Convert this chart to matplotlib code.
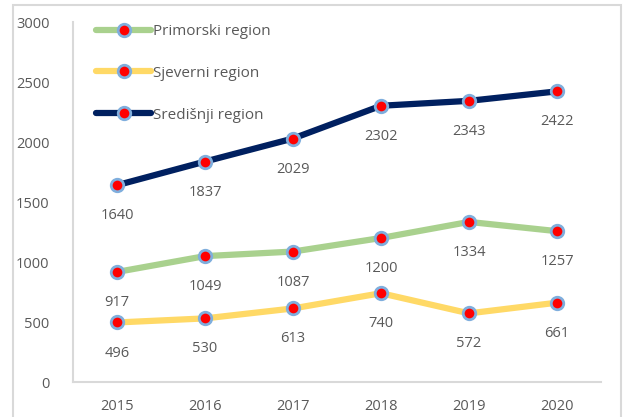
import matplotlib
matplotlib.use('Agg')
import matplotlib.pyplot as plt
from matplotlib.patches import Rectangle

years = ['2015', '2016', '2017', '2018', '2019', '2020']
primorski = [917, 1049, 1087, 1200, 1334, 1257]
sjeverni = [496, 530, 613, 740, 572, 661]
sredisnji = [1640, 1837, 2029, 2302, 2343, 2422]

series = [
    ('Primorski region', primorski, '#A9D18E'),
    ('Sjeverni region', sjeverni, '#FFD966'),
    ('Središnji region', sredisnji, '#002060'),
]

plt.rcParams['font.family'] = ['Open Sans', 'DejaVu Sans']
text_color = '#595959'

fig = plt.figure(figsize=(6.29, 4.17), dpi=100)
ax = fig.add_axes([73 / 629, 1 - 382 / 417, 528 / 629, 360 / 417])

# light frame around the whole chart
fig.patches.append(Rectangle((13 / 629, -0.05), 608 / 629, 1 - 5 / 417 + 0.05,
                             transform=fig.transFigure, fill=False,
                             edgecolor='#D9D9D9', linewidth=1.5))

x = list(range(len(years)))
for name, values, color in series:
    ax.plot(x, values, color=color, linewidth=4.5, label=name,
            marker='o', markersize=9, markerfacecolor='#FF0000',
            markeredgecolor='#7FAEDD', markeredgewidth=2, solid_capstyle='round')
    for xi, v in zip(x, values):
        ax.annotate(str(v), (xi, v), xytext=(0, -22), textcoords='offset points',
                    ha='center', va='center', fontsize=10.5, color=text_color)

ax.set_xlim(-0.5, len(years) - 0.5)
ax.set_ylim(0, 3000)
ax.set_xticks(x)
ax.set_xticklabels(years)
ax.set_yticks(range(0, 3001, 500))

for side in ['top', 'right']:
    ax.spines[side].set_visible(False)
for side in ['left', 'bottom']:
    ax.spines[side].set_color('#D9D9D9')
    ax.spines[side].set_linewidth(1.5)
ax.tick_params(length=0, labelsize=10.5, colors=text_color)
ax.tick_params(axis='y', pad=17)
ax.tick_params(axis='x', pad=12)

leg = ax.legend(loc='upper left', bbox_to_anchor=(90 / 629, 1 - 18 / 417),
                bbox_transform=fig.transFigure, frameon=False, fontsize=11,
                handlelength=3.6, handletextpad=0.15, labelspacing=1.75,
                borderaxespad=0)
for t in leg.get_texts():
    t.set_color(text_color)

fig.savefig('out.png', dpi=100)
